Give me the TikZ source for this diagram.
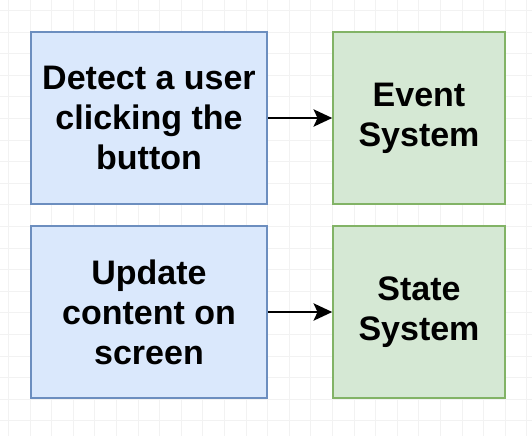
\documentclass[tikz,border=0pt]{standalone}
\usepackage{fontspec}
\setmainfont{Liberation Sans}
\usetikzlibrary{arrows.meta}
\definecolor{bluefill}{HTML}{DAE8FC}
\definecolor{bluestroke}{HTML}{6C8EBF}
\definecolor{greenfill}{HTML}{D5E8D4}
\definecolor{greenstroke}{HTML}{82B366}
\definecolor{gridc}{HTML}{F2F2F2}
\tikzset{
  px/.style={x=0.75pt,y=-0.75pt},
  box/.style={draw, line width=1.7pt, inner sep=0pt, align=center,
    font=\fontsize{25.5}{30}\selectfont\bfseries},
  bluebox/.style={box, fill=bluefill, draw=bluestroke, minimum width=177.5pt, minimum height=128.5pt},
  greenbox/.style={box, fill=greenfill, draw=greenstroke, minimum width=128.5pt, minimum height=128.5pt},
  conn/.style={line width=1.5pt, -{Stealth[length=14pt,width=13pt,inset=3pt]}}
}
\begin{document}
\begin{tikzpicture}[px]
\fill[white] (0,0) rectangle (532,436);
\useasboundingbox (0,0) rectangle (532,436);
\foreach \i in {0,...,24} {
  \draw[gridc, line width=0.75pt] ({8.4+21.6*\i},0) -- ({8.4+21.6*\i},436);
}
\foreach \j in {0,...,20} {
  \draw[gridc, line width=0.75pt] (0,{10.4+21.6*\j}) -- (532,{10.4+21.6*\j});
}
\node[bluebox] (detect) at (149,118) {Detect a user\\clicking the\\button};
\node[greenbox] (event) at (419,118) {Event\\System};
\node[bluebox] (update) at (149,312) {Update\\content on\\screen};
\node[greenbox] (state) at (419,312) {State\\System};
\draw[conn] (detect) -- (event);
\draw[conn] (update) -- (state);
\end{tikzpicture}
\end{document}
